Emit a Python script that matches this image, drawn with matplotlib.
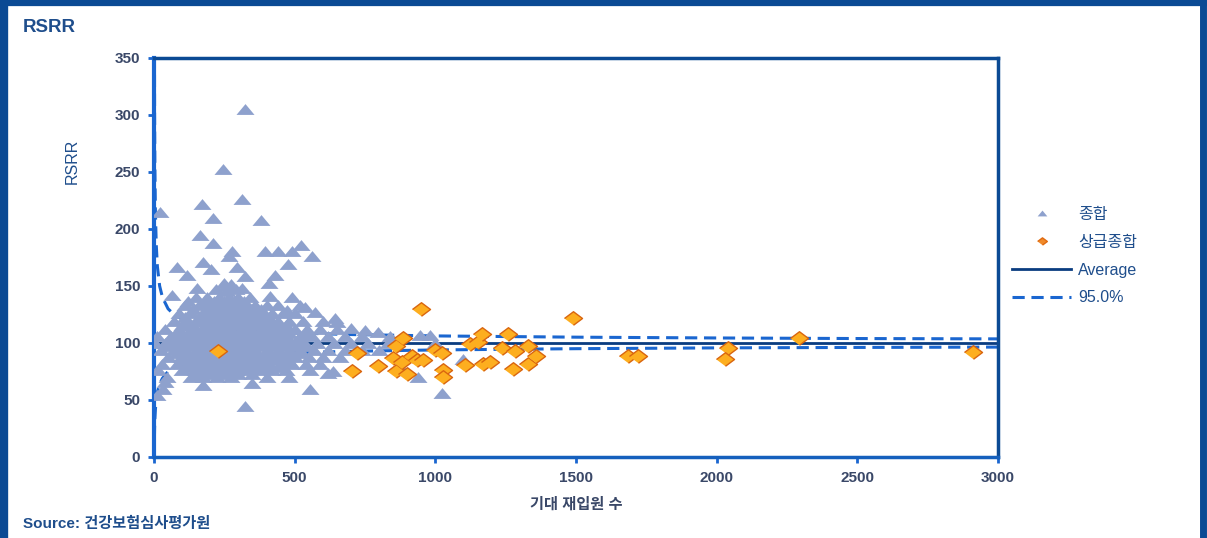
import matplotlib.pyplot as plt
from matplotlib.lines import Line2D

plt.rcParams['font.family'] = ['Liberation Sans', 'Noto Sans CJK KR']

# 종합 (general hospitals): (expected readmissions, RSRR)
general_pts = [
    (323, 305), (245, 253), (312, 226), (169, 222), (21, 215), (209, 210), (380, 208),
    (163, 195), (209, 188), (277, 181), (268, 176), (395, 181), (441, 181), (490, 181),
    (523, 186), (562, 176), (476, 169), (174, 171), (204, 165), (82, 167), (117, 160),
    (295, 167), (323, 159), (430, 160), (408, 153), (153, 148), (314, 148), (255, 150),
    (64, 142), (121, 137), (412, 141), (492, 140), (519, 133), (441, 133), (537, 132),
    (572, 127), (473, 129), (643, 122),
    (250, 153), (275, 152), (220, 147), (260, 146), (290, 147),
    (150, 140), (190, 140), (230, 140), (265, 140), (300, 140), (340, 140),
    (180, 137), (215, 137), (250, 137), (285, 137), (320, 137),
    (110, 133), (160, 133), (200, 133), (240, 133), (270, 133), (300, 133), (330, 133),
    (360, 133), (400, 133),
    (140, 130), (185, 130), (220, 130), (255, 130), (290, 130), (345, 130), (380, 130),
    (90, 126), (130, 126), (175, 126), (215, 126), (250, 126), (285, 126), (320, 126),
    (355, 126), (390, 126), (420, 126), (460, 126), (500, 126),
    (110, 123), (160, 123), (200, 123), (240, 123), (275, 123), (310, 123), (340, 123),
    (375, 123), (410, 123),
    (70, 119), (115, 119), (150, 119), (190, 119), (225, 119), (260, 119), (295, 119),
    (330, 119), (365, 119), (400, 119), (440, 119), (480, 119), (530, 119), (600, 119),
    (650, 118),
    (100, 116), (140, 116), (180, 116), (215, 116), (250, 116), (285, 116), (320, 116),
    (355, 116), (390, 116), (430, 116), (470, 116),
    (40, 112), (90, 112), (130, 112), (170, 112), (205, 112), (240, 112), (275, 112),
    (310, 112), (345, 112), (380, 112), (415, 112), (455, 112), (500, 112), (545, 112),
    (590, 112), (650, 112), (700, 113), (750, 111), (796, 110),
    (80, 109), (120, 109), (160, 109), (195, 109), (230, 109), (265, 109), (300, 109),
    (335, 109), (370, 109), (405, 109), (440, 109), (480, 109), (540, 109),
    (10, 106), (60, 106), (100, 106), (140, 106), (180, 106), (215, 106), (250, 106),
    (285, 106), (320, 106), (355, 106), (390, 106), (430, 106), (470, 106), (520, 106),
    (560, 106), (620, 106), (680, 106), (740, 106), (840, 106), (945, 107), (981, 107),
    (60, 103), (100, 103), (140, 103), (175, 103), (210, 103), (245, 103), (280, 103),
    (315, 103), (350, 103), (390, 103), (430, 103), (470, 103), (510, 103),
    (5, 100), (40, 100), (80, 100), (120, 100), (160, 100), (195, 100), (230, 100),
    (265, 100), (300, 100), (335, 100), (370, 100), (410, 100), (450, 100), (490, 100),
    (530, 100), (580, 100), (640, 100), (700, 100), (760, 100), (830, 100), (1000, 100),
    (50, 97), (90, 97), (130, 97), (170, 97), (205, 97), (240, 97), (275, 97), (310, 97),
    (345, 97), (380, 97), (420, 97), (460, 97), (500, 97), (545, 97),
    (25, 94), (70, 94), (110, 94), (150, 94), (185, 94), (220, 94), (255, 94), (290, 94),
    (325, 94), (360, 94), (400, 94), (440, 94), (480, 94), (520, 94), (570, 94), (620, 94),
    (680, 94), (740, 94), (800, 94),
    (80, 91), (115, 91), (150, 91), (190, 91), (225, 91), (260, 91), (295, 91), (330, 91),
    (365, 91), (400, 91), (440, 91), (480, 91), (520, 91),
    (50, 88), (95, 88), (135, 88), (170, 88), (205, 88), (240, 88), (275, 88), (310, 88),
    (345, 88), (380, 88), (420, 88), (460, 88), (500, 88), (550, 88), (600, 88), (660, 88),
    (1100, 86),
    (100, 85), (150, 85), (185, 85), (220, 85), (255, 85), (290, 85), (325, 85), (360, 85),
    (395, 85), (435, 85), (475, 85),
    (30, 82), (80, 82), (120, 82), (160, 82), (195, 82), (230, 82), (265, 82), (300, 82),
    (335, 82), (370, 82), (410, 82), (450, 82), (490, 82), (540, 82), (590, 82), (870, 80),
    (130, 79), (170, 79), (205, 79), (240, 79), (275, 79), (310, 79), (350, 79), (395, 79),
    (440, 79),
    (14, 76), (100, 76), (145, 76), (185, 76), (220, 76), (255, 76), (290, 76), (330, 76),
    (375, 76), (420, 76), (470, 76), (555, 76), (636, 75), (619, 74),
    (155, 73), (200, 73), (245, 73), (300, 73), (350, 73),
    (45, 70), (130, 70), (175, 70), (225, 70), (275, 70), (400, 70), (480, 70), (940, 70),
    (39, 66), (174, 63), (348, 65), (32, 60), (11, 54), (555, 60), (1024, 56), (323, 45),
]

# 상급종합 (tertiary hospitals)
tertiary_x = [228, 704, 721, 796, 850, 860, 860, 884, 899, 881, 917, 935, 956, 950, 999,
              1024, 1027, 1027, 1106, 1123, 1152, 1166, 1170, 1194, 1237, 1258, 1276,
              1283, 1330, 1330, 1358, 1490, 1685, 1720, 2040, 2030, 2293, 2911]
tertiary_y = [93, 75, 91, 80, 87, 97, 75, 104, 73, 83, 89, 85, 85, 130, 94,
              91, 76, 70, 81, 99, 101, 108, 82, 83, 96, 108, 77,
              93, 97, 82, 89, 122, 89, 89, 96, 86, 104, 92]

# average and 95% control limits
avg_x = [0, 3000]
avg_y = [100, 100]
ci_x = [0.5, 1, 2, 3, 5, 8, 12, 20, 30, 50, 75, 100, 150, 200, 300, 400, 500, 700,
        1000, 1500, 2000, 2500, 3000]
ci_upper = [637, 426, 304, 256, 214, 186, 167, 150, 140, 130, 124, 121, 117, 114, 111.3,
            109.8, 108.8, 107.4, 106.2, 105.1, 104.4, 103.9, 103.6]
ci_lower = [0, 10, 25, 33, 42, 50, 57, 64, 69, 75, 79, 81.5, 84.5, 86.5, 89, 90.4, 91.4,
            92.7, 93.9, 95, 95.7, 96.1, 96.4]

xticks = [0, 500, 1000, 1500, 2000, 2500, 3000]
yticks = [0, 50, 100, 150, 200, 250, 300, 350]

navy = '#0B4A94'
bright = '#1A66D0'
tick_col = '#3A4868'
text_col = '#1F4E8C'

tri = [(-1, -0.6), (1, -0.6), (0, 0.6)]
dia = [(-1, 0), (0, 0.75), (1, 0), (0, -0.75)]

fig = plt.figure(figsize=(12.07, 5.38), dpi=100)
ax = fig.add_axes([0.1276, 0.1506, 0.6992, 0.7416])

ax.plot(avg_x, avg_y, color='#0A3C80', lw=2.0, zorder=2)
ax.plot(ci_x, ci_upper, color=bright, lw=2.2, ls=(0, (4, 2.2)), zorder=2)
ax.plot(ci_x, ci_lower, color=bright, lw=2.2, ls=(0, (4, 2.2)), zorder=2)

gx = [p[0] for p in general_pts]
gy = [p[1] for p in general_pts]
ax.plot(gx, gy, ls='none', marker=tri, ms=13, color='#8EA1CD', mec='none', zorder=3)
ax.plot(tertiary_x, tertiary_y, ls='none', marker=dia, ms=13, mfc='#FDAE1F',
        mec='#D9650F', mew=1.0, zorder=4)

ax.set_xlim(0, 3000)
ax.set_ylim(0, 350)
ax.set_xticks(xticks)
ax.set_yticks(yticks)
ax.tick_params(axis='both', direction='out', length=4, width=2, color=bright,
               labelsize=11, labelcolor=tick_col, pad=6)
for lab in ax.get_xticklabels() + ax.get_yticklabels():
    lab.set_fontweight('bold')

ax.spines['left'].set_color(bright)
ax.spines['left'].set_linewidth(3)
ax.spines['bottom'].set_color('#1560BD')
ax.spines['bottom'].set_linewidth(2.5)
ax.spines['top'].set_color(navy)
ax.spines['top'].set_linewidth(2.5)
ax.spines['right'].set_color(navy)
ax.spines['right'].set_linewidth(2.5)

ax.set_ylabel('RSRR', color=text_col, fontsize=11.5)
ax.yaxis.set_label_coords(-0.088, 0.74)
ax.set_xlabel('기대 재입원 수', color=tick_col, fontsize=11, fontweight='bold', labelpad=9)

# legend
handles = [
    Line2D([], [], ls='none', marker=tri, ms=7, color='#8EA1CD', mec='none'),
    Line2D([], [], ls='none', marker=dia, ms=7, mfc='#F08A2A', mec='#E06A10'),
    Line2D([], [], color='#0A3C80', lw=2.0),
    Line2D([], [], color=bright, lw=2.2, ls=(0, (4, 2.2))),
]
labels = ['종합', '상급종합', 'Average', '95.0%']
leg = fig.legend(handles, labels, loc='upper left', bbox_to_anchor=(1012 / 1207, 1 - 207 / 538),
                 frameon=False, fontsize=11.5, handlelength=3.7, handletextpad=0.45,
                 labelspacing=0.8, borderpad=0, borderaxespad=0)
for t in leg.get_texts():
    t.set_color(text_col)

fig.text(23 / 1207, 1 - 28 / 538, 'RSRR', color=text_col, fontsize=13.5, fontweight='bold',
         va='center', ha='left')
fig.text(23 / 1207, 1 - 524 / 538, 'Source: 건강보험심사평가원', color=text_col, fontsize=11,
         fontweight='bold', va='center', ha='left')

# outer frame
fig.add_artist(Line2D([0.003, 0.003], [0, 1], transform=fig.transFigure, color=navy, lw=6))
fig.add_artist(Line2D([0, 1], [0.995, 0.995], transform=fig.transFigure, color=navy, lw=4.5))
fig.add_artist(Line2D([0.9965, 0.9965], [0, 1], transform=fig.transFigure, color=navy, lw=5))

fig.savefig('out.png', dpi=100)
